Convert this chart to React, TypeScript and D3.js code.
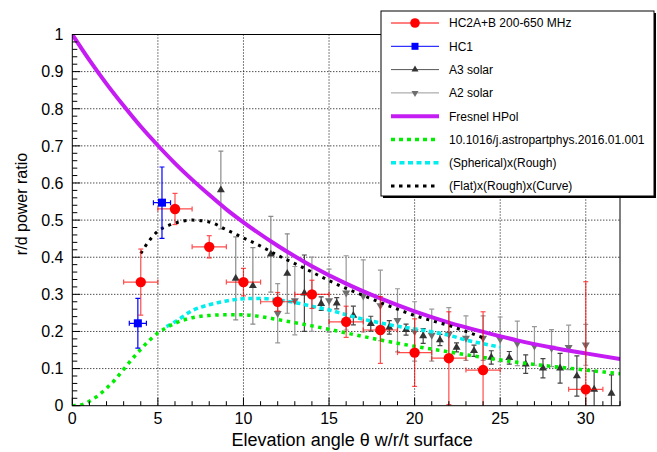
import React from "react";
import * as d3 from "d3";

// ---------- data ----------
const fresnelX = [0, 1, 2, 3, 4, 5, 6, 7, 8, 9, 10, 12, 14, 16, 18, 20, 22, 24, 26, 28, 30, 32];
const fresnelY = [1, 0.931, 0.867, 0.808, 0.752, 0.701, 0.653, 0.609, 0.568, 0.529, 0.494, 0.431, 0.376, 0.329, 0.289, 0.254, 0.224, 0.199, 0.176, 0.157, 0.141, 0.126];

const paperX = [0, 0.5, 1, 1.5, 2, 2.5, 3, 3.5, 4, 4.5, 5, 5.5, 6, 7, 8, 9, 10, 11, 12, 14, 16, 18, 20, 22, 24, 26, 28, 30, 32];
const paperY = [0, 0.002, 0.012, 0.027, 0.047, 0.07, 0.098, 0.126, 0.152, 0.176, 0.196, 0.21, 0.222, 0.237, 0.243, 0.245, 0.245, 0.24, 0.232, 0.215, 0.196, 0.177, 0.16, 0.145, 0.13, 0.117, 0.106, 0.096, 0.086];

const sphX = [5.5, 6, 7, 8, 9, 10, 11, 12, 13, 14, 15, 16, 17, 18, 19, 20, 21, 22, 23, 24, 25];
const sphY = [0.213, 0.226, 0.256, 0.272, 0.282, 0.288, 0.289, 0.285, 0.278, 0.268, 0.258, 0.245, 0.233, 0.223, 0.214, 0.207, 0.199, 0.19, 0.177, 0.167, 0.158];

const flatX = [4, 4.5, 5, 5.5, 6, 7, 8, 9, 10, 11, 12, 13, 14, 15, 16, 17, 18, 19, 20, 21, 22, 23, 24];
const flatY = [0.41, 0.445, 0.47, 0.483, 0.492, 0.5, 0.495, 0.474, 0.452, 0.43, 0.405, 0.383, 0.36, 0.337, 0.316, 0.297, 0.278, 0.26, 0.243, 0.229, 0.216, 0.2, 0.183];

const hc2X = [4, 6, 8, 10, 12, 14, 16, 18, 20, 22, 24, 30];
const hc2Y = [0.333, 0.53, 0.428, 0.333, 0.28, 0.3, 0.226, 0.204, 0.143, 0.128, 0.096, 0.044];
const hc2XErr = [1, 1, 1, 1, 1, 1, 1, 1, 1, 1, 1, 1];
const hc2YErr = [0.089, 0.042, 0.03, 0.037, 0.025, 0.038, 0.042, 0.09, 0.091, 0.125, 0.157, 0.29];

const hc1X = [3.83, 5.24];
const hc1Y = [0.222, 0.547];
const hc1XErr = [0.5, 0.5];
const hc1YErr = [0.067, 0.096];

const a3X = [8.68, 9.55, 10.55, 11.6, 12.56, 13.56, 14.54, 15.45, 16.42, 17.44, 18.52, 19.5, 20.5, 21.48, 22.45, 23.47, 24.48, 25.53, 26.49, 27.5, 28.5, 29.48, 30.49, 31.5];
const a3Y = [0.581, 0.343, 0.323, 0.408, 0.356, 0.303, 0.275, 0.276, 0.243, 0.221, 0.211, 0.205, 0.188, 0.177, 0.157, 0.148, 0.13, 0.129, 0.112, 0.101, 0.101, 0.08, 0.044, 0.033];
const a3Err = [0.105, 0.112, 0.103, 0.102, 0.107, 0.103, 0.018, 0.015, 0.025, 0.02, 0.018, 0.015, 0.02, 0.015, 0.012, 0.015, 0.018, 0.017, 0.025, 0.026, 0.04, 0.054, 0.05, 0.05];

const a2X = [12, 13, 14, 15, 16, 17, 18, 19, 20, 21, 22, 23, 24, 25, 26, 27, 28, 29, 30];
const a2Y = [0.249, 0.283, 0.3, 0.283, 0.304, 0.296, 0.27, 0.23, 0.2, 0.19, 0.193, 0.182, 0.182, 0.179, 0.168, 0.161, 0.155, 0.157, 0.164];
const a2Err = [0.08, 0.092, 0.1, 0.085, 0.1, 0.097, 0.095, 0.085, 0.08, 0.07, 0.071, 0.06, 0.06, 0.06, 0.06, 0.052, 0.05, 0.06, 0.055];

const xTicks = [0, 5, 10, 15, 20, 25, 30];
const yTicks = [0, 0.1, 0.2, 0.3, 0.4, 0.5, 0.6, 0.7, 0.8, 0.9, 1];
const legendLabels = [
  "HC2A+B 200-650 MHz",
  "HC1",
  "A3 solar",
  "A2 solar",
  "Fresnel HPol",
  "10.1016/j.astropartphys.2016.01.001",
  "(Spherical)x(Rough)",
  "(Flat)x(Rough)x(Curve)",
];

// ---------- layout ----------
const W = 657, H = 452;
const L = 72.3, R = 620, T = 34.5, B = 405.7;
const FONT = "'Liberation Sans', Arial, Helvetica, sans-serif";

const x = d3.scaleLinear().domain([0, 32]).range([L, R]);
const y = d3.scaleLinear().domain([0, 1]).range([B, T]);

const COL_RED = "#ff0000";
const COL_BLUE = "#0000ff";
const COL_A3 = "#333333";
const COL_A2 = "#6e6e6e";
const COL_MAG = "#c41cf2";
const COL_GREEN = "#00ee00";
const COL_CYAN = "#00eeee";

function curvePath(xs: number[], ys: number[]) {
  const line = d3
    .line<number>()
    .x((_, i) => x(xs[i]))
    .y((d) => y(d))
    .curve(d3.curveMonotoneX);
  return line(ys) || "";
}

function ErrPoint(props: {
  cx: number; cy: number; ex: number; ey: number; color: string; opacity?: number;
}) {
  const { cx, cy, ex, ey, color, opacity = 1 } = props;
  const px = x(cx), py = y(cy);
  const x0 = x(cx - ex), x1 = x(cx + ex);
  const y0 = y(Math.max(0, cy - ey)), y1 = y(cy + ey);
  const c = 2.5;
  return (
    <g stroke={color} strokeWidth={1.2} opacity={opacity}>
      {ex > 0 && (
        <>
          <line x1={x0} x2={x1} y1={py} y2={py} />
          <line x1={x0} x2={x0} y1={py - c} y2={py + c} />
          <line x1={x1} x2={x1} y1={py - c} y2={py + c} />
        </>
      )}
      <line x1={px} x2={px} y1={y0} y2={y1} />
      <line x1={px - c} x2={px + c} y1={y1} y2={y1} />
      {cy - ey > 0 && <line x1={px - c} x2={px + c} y1={y0} y2={y0} />}
    </g>
  );
}

function tri(px: number, py: number, up: boolean, s = 8) {
  const h = s * 0.866;
  if (up) return `M${px - s / 2},${py + h / 3}L${px + s / 2},${py + h / 3}L${px},${py - (2 * h) / 3}Z`;
  return `M${px - s / 2},${py - h / 3}L${px + s / 2},${py - h / 3}L${px},${py + (2 * h) / 3}Z`;
}

export default function App() {
  const minorX = d3.range(0, 33, 1);
  const minorY = d3.range(0, 1.0001, 0.02);
  const legX = 381, legY = 11, legW = 273, legH = 185;
  const rowY = (i: number) => 23 + i * 23.3;
  const symX0 = 391, symX1 = 439, symC = 415, textX = 449;

  return (
    <svg width={W} height={H} style={{ position: "absolute", left: 0, top: 0, background: "#fff" }} fontFamily={FONT}>
      <defs>
        <clipPath id="plotClip">
          <rect x={L} y={T} width={R - L} height={B - T} />
        </clipPath>
      </defs>
      <rect x={0} y={0} width={W} height={H} fill="#fff" />

      {/* grid */}
      <g stroke="#000" strokeWidth={1} strokeDasharray="1 2">
        {xTicks.filter((t) => t > 0).map((t) => (
          <line key={"gx" + t} x1={x(t)} x2={x(t)} y1={T} y2={B} />
        ))}
        {yTicks.filter((t) => t > 0).map((t) => (
          <line key={"gy" + t} x1={L} x2={R} y1={y(t)} y2={y(t)} />
        ))}
      </g>

      <g clipPath="url(#plotClip)">
        {/* A3 solar */}
        {a3X.map((v, i) => (
          <ErrPoint key={"a3e" + i} cx={v} cy={a3Y[i]} ex={0} ey={a3Err[i]} color={i < 5 ? "#8a8a8a" : "#444"} />
        ))}
        {/* A2 solar */}
        {a2X.map((v, i) => (
          <ErrPoint key={"a2e" + i} cx={v} cy={a2Y[i]} ex={0} ey={a2Err[i]} color="#999" />
        ))}
        {a3X.map((v, i) => (
          <path key={"a3m" + i} d={tri(x(v), y(a3Y[i]), true)} fill={COL_A3} />
        ))}
        {a2X.map((v, i) => (
          <path key={"a2m" + i} d={tri(x(v), y(a2Y[i]), false)} fill={COL_A2} />
        ))}

        {/* curves */}
        <path d={curvePath(fresnelX, fresnelY)} fill="none" stroke={COL_MAG} strokeWidth={4} />
        <path d={curvePath(sphX, sphY)} fill="none" stroke={COL_CYAN} strokeWidth={3.5} strokeDasharray="4.5 3.5" />
        <path d={curvePath(paperX, paperY)} fill="none" stroke={COL_GREEN} strokeWidth={3.5} strokeDasharray="3.5 4.5" />
        <path d={curvePath(flatX, flatY)} fill="none" stroke="#000" strokeWidth={3} strokeDasharray="3 5" />

        {/* HC2A+B */}
        {hc2X.map((v, i) => (
          <ErrPoint key={"hc2e" + i} cx={v} cy={hc2Y[i]} ex={hc2XErr[i]} ey={hc2YErr[i]} color={COL_RED} opacity={0.7} />
        ))}
        {hc2X.map((v, i) => (
          <circle key={"hc2m" + i} cx={x(v)} cy={y(hc2Y[i])} r={5.2} fill={COL_RED} />
        ))}

        {/* HC1 */}
        {hc1X.map((v, i) => (
          <ErrPoint key={"hc1e" + i} cx={v} cy={hc1Y[i]} ex={hc1XErr[i]} ey={hc1YErr[i]} color={COL_BLUE} />
        ))}
        {hc1X.map((v, i) => (
          <rect key={"hc1m" + i} x={x(v) - 4} y={y(hc1Y[i]) - 4} width={8} height={8} fill={COL_BLUE} />
        ))}
      </g>

      {/* frame */}
      <rect x={L} y={T} width={R - L} height={B - T} fill="none" stroke="#000" strokeWidth={1} />

      {/* ticks */}
      <g stroke="#000" strokeWidth={1}>
        {minorX.map((t) => (
          <line key={"tx" + t} x1={x(t)} x2={x(t)} y1={B} y2={B - (t % 5 === 0 ? 8 : 4.5)} />
        ))}
        {minorY.map((t, i) => (
          <line key={"ty" + i} x1={L} x2={L + (i % 5 === 0 ? 8 : 5)} y1={y(t)} y2={y(t)} />
        ))}
      </g>

      {/* tick labels */}
      <g fontSize={16} fill="#000">
        {xTicks.map((t) => (
          <text key={"lx" + t} x={x(t)} y={423.5} textAnchor="middle">{t}</text>
        ))}
        {yTicks.map((t) => (
          <text key={"ly" + t} x={63.5} y={y(t)} dy="0.36em" textAnchor="end">{t}</text>
        ))}
      </g>

      {/* axis titles */}
      <text x={(L + R) / 2 + 6} y={446} fontSize={18} textAnchor="middle">Elevation angle θ w/r/t surface</text>
      <text transform={`translate(27,204) rotate(-90)`} fontSize={16} textAnchor="middle">r/d power ratio</text>

      {/* legend */}
      <rect x={legX + 2} y={legY + 2} width={legW} height={legH} fill="#000" />
      <rect x={legX} y={legY} width={legW} height={legH} fill="#fff" stroke="#000" strokeWidth={1} />
      <g fontSize={12} fill="#000">
        {/* HC2 */}
        <line x1={symX0} x2={symX1} y1={rowY(0)} y2={rowY(0)} stroke={COL_RED} strokeWidth={1} />
        <circle cx={symC} cy={rowY(0)} r={4.8} fill={COL_RED} />
        {/* HC1 */}
        <line x1={symX0} x2={symX1} y1={rowY(1)} y2={rowY(1)} stroke={COL_BLUE} strokeWidth={1} />
        <rect x={symC - 3.5} y={rowY(1) - 3.5} width={7} height={7} fill={COL_BLUE} />
        {/* A3 */}
        <line x1={symX0} x2={symX1} y1={rowY(2)} y2={rowY(2)} stroke="#555" strokeWidth={1} />
        <path d={tri(symC, rowY(2), true, 7)} fill={COL_A3} />
        {/* A2 */}
        <line x1={symX0} x2={symX1} y1={rowY(3)} y2={rowY(3)} stroke="#999" strokeWidth={1} />
        <path d={tri(symC, rowY(3), false, 7)} fill={COL_A2} />
        {/* Fresnel */}
        <line x1={symX0} x2={symX1} y1={rowY(4)} y2={rowY(4)} stroke={COL_MAG} strokeWidth={4} />
        {/* curves */}
        <line x1={symX0} x2={symX1} y1={rowY(5)} y2={rowY(5)} stroke={COL_GREEN} strokeWidth={3.5} strokeDasharray="4 4" />
        <line x1={symX0} x2={symX1} y1={rowY(6)} y2={rowY(6)} stroke={COL_CYAN} strokeWidth={3.5} strokeDasharray="5 3.5" />
        <line x1={symX0} x2={symX1} y1={rowY(7)} y2={rowY(7)} stroke="#000" strokeWidth={3} strokeDasharray="3.5 4.5" />
        {legendLabels.map((s, i) => (
          <text key={"lg" + i} x={textX} y={rowY(i)} dy="0.36em">{s}</text>
        ))}
      </g>
    </svg>
  );
}
